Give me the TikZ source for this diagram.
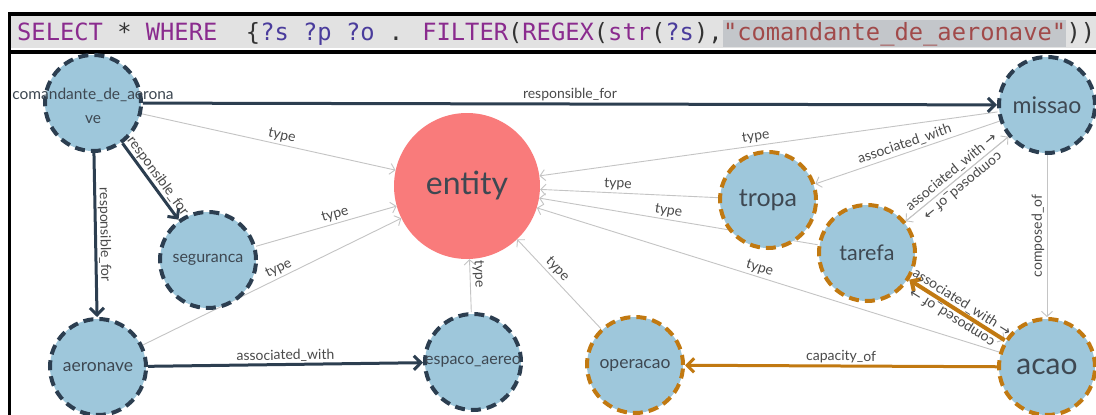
\documentclass[tikz,border=0pt]{standalone}
\usepackage{fontspec}
\setmainfont{Lato}
\newfontfamily\codefont{DejaVu Sans Mono}
\newfontfamily\glyphfont{DejaVu Sans}
\usetikzlibrary{arrows.meta}
\pgfdeclarelayer{bg}
\pgfdeclarelayer{edges}
\pgfsetlayers{bg,edges,main}

\definecolor{nodefill}{HTML}{9EC7DB}
\definecolor{navy}{HTML}{2C3E50}
\definecolor{amber}{HTML}{C17911}
\definecolor{salmon}{HTML}{F97B7B}
\definecolor{nodetext}{HTML}{3E4852}
\definecolor{edgetext}{HTML}{4A4A4A}
\definecolor{thinline}{HTML}{C4C4C4}
\definecolor{kw}{HTML}{8A2B8E}
\definecolor{var}{HTML}{4A3C9C}
\definecolor{punct}{HTML}{333333}
\definecolor{strc}{HTML}{A14A4A}
\definecolor{hdrbg}{HTML}{E2E2E2}
\definecolor{hlbg}{HTML}{C3C6CA}

\newcommand{\setfs}[1]{\fontsize{#1}{#1}\selectfont}
\newcommand{\rarr}{{\glyphfont\char"2192}}

\begin{document}
\begin{tikzpicture}[x=1pt,y=-1pt,
  concept/.style={circle, fill=nodefill, inner sep=0pt, minimum size=96pt, text=nodetext},
  navyring/.style={concept, draw=navy, line width=4pt, dash pattern=on 10pt off 6pt},
  amberring/.style={concept, draw=amber, line width=4pt, dash pattern=on 10pt off 6pt},
  rootnode/.style={circle, fill=salmon, inner sep=0pt, minimum size=146pt, text=nodetext},
  caption/.style={text=nodetext, inner sep=0pt, align=center},
  typeedge/.style={draw=thinline, line width=0.9pt, -{Straight Barb[length=5pt,width=11pt]}},
  linkedge/.style={typeedge},
  navyedge/.style={draw=navy, line width=3pt, -{Straight Barb[length=7pt,width=14pt]}},
  amberedge/.style={draw=amber, line width=3pt, -{Straight Barb[length=7pt,width=14pt]}},
  elabel/.style={pos=0.5, sloped, above, inner sep=2.5pt, text=edgetext, font=\setfs{14}},
  code/.style={font=\codefont\setfs{23.75}, inner sep=0pt, text=punct},
]
\useasboundingbox (0,0) rectangle (1096,415);

% page, frame and query bar
\begin{pgfonlayer}{bg}
  \fill[white] (0,0) rectangle (1096,415);
  \fill[hdrbg] (11,16) rectangle (1096,48);
  \fill[black] (8,12) rectangle (1096,16);
  \fill[black] (8,50) rectangle (1096,54);
  \fill[black] (8,12) rectangle (11,415);
\end{pgfonlayer}

\node[code, anchor=base west] (q1) at (17,40)
  {\textcolor{kw}{SELECT} * \textcolor{kw}{WHERE}~~\{\textcolor{var}{?s ?p ?o} . \textcolor{kw}{FILTER}(\textcolor{kw}{REGEX}(\textcolor{kw}{str}(\textcolor{var}{?s}),};
\node[code, anchor=base west, fill=hlbg, text=strc, text height=20pt, text depth=7pt] (q2) at (q1.base east)
  {"comandante\_de\_aeronave"};
\node[code, anchor=base west] (q3) at (q2.base east) {))\}};

% graph nodes
\node[rootnode, font=\setfs{32}] (root) at (467,186) {entity};
\node[navyring] (cmd) at (93,103) {};
\node[caption, font=\fontsize{15.5}{24}\selectfont] (cmdtext) at (93,106) {comandante\_de\_aerona\\ve};
\node[navyring, font=\setfs{23}] (mis) at (1047,105) {missao};
\node[amberring, font=\setfs{25}] (tro) at (768,200) {tropa};
\node[amberring, font=\setfs{21.5}] (tar) at (867,253) {tarefa};
\node[navyring, font=\setfs{16}] (seg) at (208,260) {seguranca};
\node[navyring, font=\setfs{17.5}] (aer) at (98,367) {aeronave};
\node[navyring, font=\setfs{16}] (esp) at (473,362) {\makebox[0pt]{espaco\_aereo}};
\node[amberring, font=\setfs{17.5}] (ope) at (635,365) {operacao};
\node[amberring, font=\setfs{30}] (aca) at (1047,367) {acao};

% connectors
\begin{pgfonlayer}{edges}
  \draw[typeedge] (cmd) -- (root);
  \draw[typeedge] (seg) -- (root);
  \draw[typeedge] (aer) -- (root);
  \draw[typeedge] (esp) -- (root);
  \draw[typeedge] (ope) -- (root);
  \draw[typeedge] (mis) -- (root);
  \draw[typeedge] (tro) -- (root);
  \draw[typeedge] (tar) -- (root);
  \draw[typeedge] (aca) -- (root);

  \draw[linkedge] (mis) -- (tro);
  \draw[linkedge] (mis) -- (tar);
  \draw[linkedge] (tar) -- (mis);
  \draw[linkedge] (mis) -- (aca);
  \draw[linkedge] (tar) -- (aca);

  \draw[navyedge] (cmd) -- (mis);
  \draw[navyedge] (cmd) -- (seg);
  \draw[navyedge] (cmd) -- (aer);
  \draw[navyedge] (aer) -- (esp);
  \draw[amberedge] (aca) -- (ope);
  \draw[amberedge, line width=4pt] (aca) -- (tar);
\end{pgfonlayer}

% connector labels
\path (cmd.center) -- (root.center) node[elabel] {type};
\path (seg.center) -- (root.center) node[elabel] {type};
\path (aer.center) -- (root.center) node[elabel] {type};
\path (root.center) -- (esp.center) node[elabel] {type};
\path (root.center) -- (ope.center) node[elabel] {type};
\path (mis.center) -- (root.center) node[elabel] {type};
\path (tro.center) -- (root.center) node[elabel] {type};
\path (tar.center) -- (root.center) node[elabel] {type};
\path (aca.center) -- (root.center) node[elabel] {type};

\path (tro.center) -- (mis.center) node[elabel] {associated\_with};
\path (tar.center) -- (mis.center) node[elabel] {associated\_with \rarr};
\path (mis.center) -- (tar.center) node[elabel, allow upside down] {composed\_of \rarr};
\path (aca.center) -- (mis.center) node[elabel, allow upside down] {composed\_of};
\path (tar.center) -- (aca.center) node[elabel] {associated\_with \rarr};
\path (aca.center) -- (tar.center) node[elabel, allow upside down] {composed\_of \rarr};

\path (cmd.center) -- (mis.center) node[elabel] {responsible\_for};
\path (cmd.center) -- (seg.center) node[elabel] {responsible\_for};
\path (cmd.center) -- (aer.center) node[elabel] {responsible\_for};
\path (aer.center) -- (esp.center) node[elabel] {associated\_with};
\path (ope.center) -- (aca.center) node[elabel] {capacity\_of};
\end{tikzpicture}
\end{document}
